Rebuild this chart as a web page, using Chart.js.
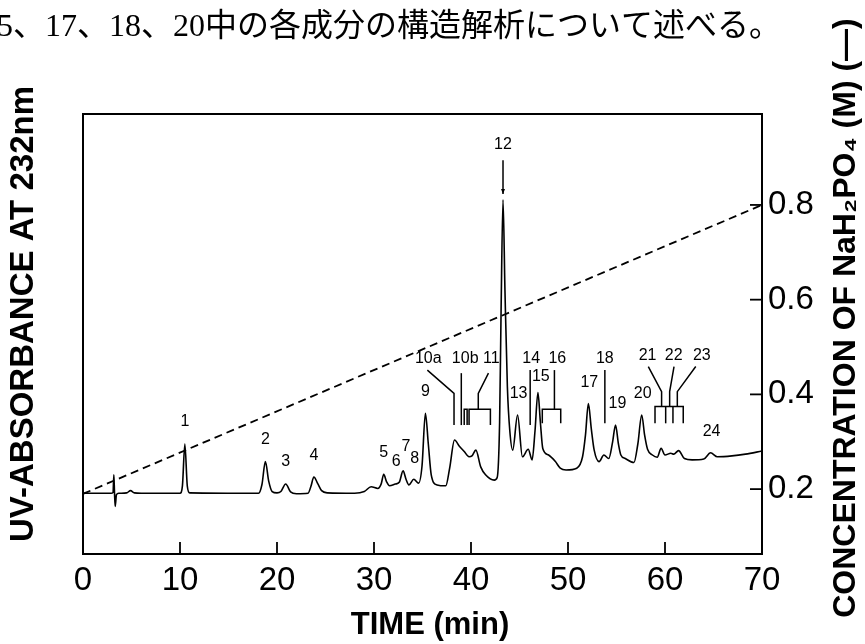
<!DOCTYPE html>
<html>
<head>
<meta charset="utf-8">
<script src="https://cdn.jsdelivr.net/npm/chart.js@4.4.1/dist/chart.umd.min.js"></script>
<style>
  html, body { margin: 0; padding: 0; background: #fff; }
  #wrap { width: 865px; height: 644px; }
</style>
</head>
<body>
<div id="wrap"><canvas id="chart" width="865" height="644"></canvas></div>
<script>
// chromatogram trace: time (min) and UV absorbance (relative, 0-100 of full frame)
const times = [0.0, 2.9, 3.1, 3.18, 3.25, 3.32, 3.45, 3.7, 4.5, 4.9, 5.3, 6.0,
  10.0, 10.25, 10.5, 10.75, 11.0, 18.1, 18.45, 18.8, 19.15, 19.5, 20.0, 20.4,
  20.9, 21.4, 22.0, 23.2, 23.5, 23.8, 24.2, 24.6, 25.2, 28.0, 29.0, 29.7, 30.4,
  30.75, 31.0, 31.3, 31.6, 32.2, 32.6, 33.0, 33.3, 33.6, 34.1, 34.6, 34.95, 35.3,
  35.6, 35.9, 36.5, 37.4, 37.8, 38.3, 38.8, 39.3, 39.8, 40.1, 40.5, 41.0, 41.5,
  42.4, 42.7, 42.95, 43.1, 43.3, 43.5, 43.75, 44.0, 44.3, 44.8, 45.3, 45.9, 46.3,
  46.6, 46.9, 47.15, 47.4, 48.0, 48.7, 49.2, 49.8, 50.9, 51.5, 51.8, 52.1, 52.4,
  52.7, 53.2, 53.7, 54.2, 54.6, 54.9, 55.2, 55.45, 55.9, 56.8, 57.2, 57.6, 57.9,
  58.2, 58.7, 59.2, 59.6, 60.0, 60.6, 60.9, 61.4, 62.0, 62.8, 64.0, 64.7, 65.4,
  66.9, 68.3, 70.0];
const absorbance = [13.8, 13.8, 14.0, 18.0, 13.8, 10.8, 13.5, 13.8, 13.9, 14.4, 13.9, 13.8,
  13.8, 15.5, 25.0, 15.5, 13.9, 13.8, 15.8, 21.0, 16.5, 14.2, 13.9, 14.2,
  15.9, 14.1, 13.7, 13.8, 15.4, 17.5, 16.0, 14.4, 13.9, 13.8, 14.2, 15.3, 14.9,
  16.0, 18.1, 16.4, 15.5, 15.9, 16.3, 18.9, 17.0, 15.7, 17.0, 16.1, 20.0, 32.0,
  25.0, 18.0, 15.7, 15.5, 19.5, 25.9, 24.5, 23.3, 22.1, 22.3, 23.6, 19.8, 18.0,
  16.8, 17.4, 30.0, 55.0, 80.5, 60.0, 38.0, 28.0, 23.6, 31.6, 22.1, 23.8, 21.4,
  28.0, 36.7, 30.0, 24.0, 22.5, 21.0, 19.5, 19.1, 19.5, 22.1, 27.0, 34.2, 28.5,
  23.6, 21.0, 22.5, 21.7, 25.5, 29.3, 25.0, 22.5, 21.7, 20.8, 25.0, 31.6, 27.0,
  23.8, 22.5, 22.0, 24.0, 22.5, 22.9, 22.7, 23.5, 21.7, 21.4, 21.6, 23.0, 22.1,
  22.3, 22.7, 23.4];

// NaH2PO4 gradient (dashed line)
const gradientTimes = [0, 70];
const gradientConc = [0.19, 0.8];

// tick labels
const timeTicks = [0, 10, 20, 30, 40, 50, 60, 70];
const concTicks = [0.2, 0.4, 0.6, 0.8];

// peak numbers and where they sit (time, absorbance level)
const peakNames = ['1', '2', '3', '4', '5', '6', '7', '8', '9', '10a', '10b', '11', '12',
  '13', '14', '15', '16', '17', '18', '19', '20', '21', '22', '23', '24'];
const peakLabelTimes = [10.5, 18.8, 20.9, 23.8, 31.0, 32.3, 33.3, 34.2, 35.3, 35.6, 39.4, 42.1, 43.3,
  44.9, 46.2, 47.2, 48.9, 52.2, 53.8, 55.1, 57.7, 58.2, 60.9, 63.8, 64.8];
const peakLabelLevels = [30.0, 26.1, 20.9, 22.3, 23.0, 21.1, 24.4, 21.6, 36.8, 44.5, 44.5, 44.5, 93.0,
  36.5, 44.5, 40.3, 44.5, 38.9, 44.5, 34.2, 36.5, 45.0, 45.0, 45.0, 27.8];

// leader lines / brackets for fractions, as [time, level] points
const markerLines = [
  [[35.5, 41.8], [38.25, 36.5], [38.25, 29.3]],
  [[39.0, 41.1], [39.0, 29.3]],
  [[39.3, 29.3], [39.3, 32.9], [39.6, 32.9], [39.6, 29.3]],
  [[39.8, 29.3], [39.8, 32.9], [42.0, 32.9], [42.0, 29.3]],
  [[41.8, 41.1], [40.75, 36.5], [40.75, 32.9]],
  [[46.1, 41.8], [46.1, 29.3]],
  [[47.35, 29.7], [47.35, 32.9], [49.25, 32.9], [49.25, 29.7]],
  [[48.6, 41.8], [48.6, 32.9]],
  [[53.8, 41.8], [53.8, 29.7]],
  [[58.97, 29.7], [58.97, 33.5], [61.88, 33.5], [61.88, 29.7]],
  [[60.07, 33.5], [60.07, 29.7]],
  [[60.82, 33.5], [60.82, 29.7]],
  [[58.28, 42.6], [59.65, 36.9], [59.65, 33.5]],
  [[60.93, 42.6], [60.48, 36.9], [60.48, 33.5]],
  [[63.17, 42.6], [61.27, 36.9], [61.27, 33.5]]
];
const arrowTime = 43.3;
const arrowFrom = 89.5;
const arrowTo = 81.8;

const FONT = '"Liberation Sans", Arial, sans-serif';

const decorations = {
  id: 'decorations',
  afterDraw(chart) {
    const { ctx, chartArea: a, scales } = chart;
    const x = scales.x, yA = scales.yAbs, yC = scales.yConc;
    ctx.save();
    ctx.strokeStyle = '#000';
    ctx.fillStyle = '#000';
    ctx.lineCap = 'butt';

    // top edge of the frame
    ctx.lineWidth = 2;
    ctx.beginPath();
    ctx.moveTo(a.left - 1, a.top);
    ctx.lineTo(a.right + 1, a.top);
    ctx.stroke();

    // ticks pointing into the plot
    ctx.lineWidth = 1.8;
    timeTicks.slice(1, -1).forEach(v => {
      const px = x.getPixelForValue(v);
      ctx.beginPath();
      ctx.moveTo(px, a.bottom);
      ctx.lineTo(px, a.bottom - 12);
      ctx.stroke();
    });
    concTicks.forEach(v => {
      const py = yC.getPixelForValue(v);
      ctx.beginPath();
      ctx.moveTo(a.right, py);
      ctx.lineTo(a.right - 12, py);
      ctx.stroke();
    });

    // fraction brackets
    ctx.lineWidth = 1.5;
    markerLines.forEach(pts => {
      ctx.beginPath();
      pts.forEach((p, i) => {
        const px = x.getPixelForValue(p[0]), py = yA.getPixelForValue(p[1]);
        if (i === 0) ctx.moveTo(px, py); else ctx.lineTo(px, py);
      });
      ctx.stroke();
    });

    // arrow onto peak 12
    const ax = x.getPixelForValue(arrowTime);
    const ay1 = yA.getPixelForValue(arrowFrom), ay2 = yA.getPixelForValue(arrowTo);
    ctx.beginPath();
    ctx.moveTo(ax, ay1);
    ctx.lineTo(ax, ay2);
    ctx.stroke();
    ctx.beginPath();
    ctx.moveTo(ax - 2, ay2 - 5);
    ctx.lineTo(ax + 2, ay2 - 5);
    ctx.lineTo(ax, ay2);
    ctx.closePath();
    ctx.fill();

    // peak numbers
    ctx.font = '16px ' + FONT;
    ctx.textAlign = 'center';
    ctx.textBaseline = 'middle';
    peakNames.forEach((n, i) => {
      ctx.fillText(n, x.getPixelForValue(peakLabelTimes[i]), yA.getPixelForValue(peakLabelLevels[i]));
    });

    // axis titles
    ctx.font = 'bold 31px ' + FONT;
    ctx.fillText('TIME (min)', 430, 625);

    ctx.save();
    ctx.translate(24, 314);
    ctx.rotate(-Math.PI / 2);
    ctx.font = 'bold 33px ' + FONT;
    ctx.fillText('UV-ABSORBANCE AT 232nm', 0, 0);
    ctx.restore();

    ctx.save();
    ctx.translate(846, 318);
    ctx.rotate(-Math.PI / 2);
    ctx.font = 'bold 32px ' + FONT;
    ctx.fillText('CONCENTRATION OF NaH\u2082PO\u2084 (M) (\u2014)', 0, 0);
    ctx.restore();

    // cropped line of page text above the figure
    ctx.textAlign = 'left';
    ctx.font = '32px "Liberation Serif", "Noto Sans CJK JP", serif';
    ctx.fillText('5、17、18、20中の各成分の構造解析について述べる。', -3, 28);

    ctx.restore();
  }
};

const ctx = document.getElementById('chart').getContext('2d');
new Chart(ctx, {
  type: 'line',
  data: {
    datasets: [
      {
        label: 'UV absorbance',
        data: times.map((t, i) => ({ x: t, y: absorbance[i] })),
        yAxisID: 'yAbs',
        borderColor: '#000',
        borderWidth: 1.6,
        pointRadius: 0,
        cubicInterpolationMode: 'monotone',
        fill: false
      },
      {
        label: 'NaH2PO4',
        data: gradientTimes.map((t, i) => ({ x: t, y: gradientConc[i] })),
        yAxisID: 'yConc',
        borderColor: '#000',
        borderWidth: 1.8,
        borderDash: [8, 5],
        pointRadius: 0,
        fill: false
      }
    ]
  },
  options: {
    responsive: false,
    devicePixelRatio: 1,
    animation: false,
    layout: { padding: { top: 114, left: 0, right: 0, bottom: 0 } },
    plugins: { legend: { display: false }, tooltip: { enabled: false }, title: { display: false } },
    scales: {
      x: {
        type: 'linear',
        position: 'bottom',
        min: 0,
        max: 70,
        afterBuildTicks: s => { s.ticks = timeTicks.map(v => ({ value: v })); },
        afterFit: s => { s.height = 644 - 554; },
        grid: { display: false, drawTicks: false },
        border: { display: true, color: '#000', width: 2 },
        ticks: { color: '#000', padding: 7, maxRotation: 0, font: { family: FONT, size: 33 } }
      },
      yAbs: {
        type: 'linear',
        position: 'left',
        min: 0,
        max: 100,
        afterFit: s => { s.width = 83; },
        grid: { display: false, drawTicks: false },
        border: { display: true, color: '#000', width: 2 },
        ticks: { display: false }
      },
      yConc: {
        type: 'linear',
        position: 'right',
        min: 0.063,
        max: 0.992,
        afterBuildTicks: s => { s.ticks = concTicks.map(v => ({ value: v })); },
        afterFit: s => { s.width = 865 - 762; },
        grid: { display: false, drawTicks: false },
        border: { display: true, color: '#000', width: 2 },
        ticks: {
          color: '#000',
          padding: 6,
          font: { family: FONT, size: 33 },
          callback: v => v.toFixed(1)
        }
      }
    }
  },
  plugins: [decorations]
});
</script>
</body>
</html>
